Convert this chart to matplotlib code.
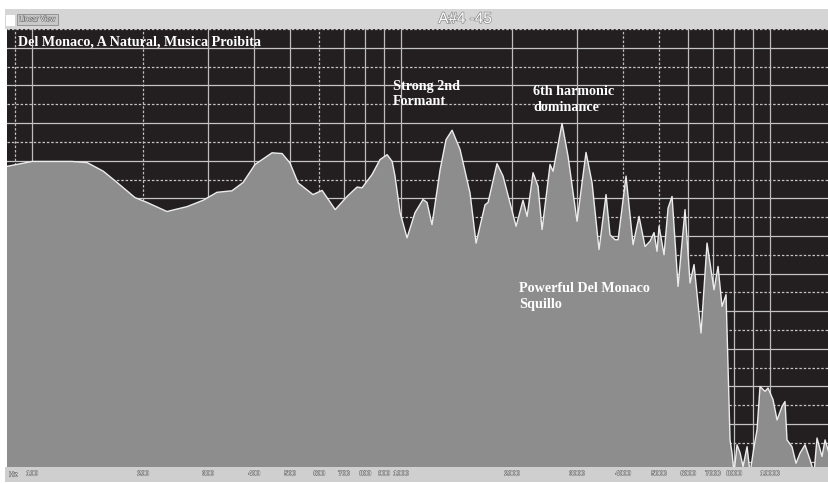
import numpy as np
import matplotlib as mpl
import matplotlib.pyplot as plt
import matplotlib.patheffects as pe
from matplotlib.patches import Rectangle
mpl.use('Agg')

# spectrum (Hz, dB relative to top of the display)
freq_hz = [85.5, 100, 128, 141, 156, 170, 190, 205, 232, 263, 291, 317, 348, 373, 402,
           447, 476, 500, 526, 577, 611, 663, 714, 760, 784, 834, 877, 917, 946, 963,
           994, 1038, 1091, 1147, 1176, 1213, 1276, 1324, 1375, 1445, 1538, 1597, 1689,
           1721, 1820, 1890, 2050, 2141, 2196, 2279, 2351, 2411, 2534, 2582, 2731, 2835,
           2999, 3172, 3293, 3440, 3594, 3685, 3802, 3874, 4072, 4254, 4416, 4584, 4730,
           4849, 4941, 5003, 5161, 5292, 5426, 5633, 5884, 6071, 6224, 6502, 6750, 7051,
           7230, 7413, 7600, 7695, 7792, 7889, 7988, 8140, 8294, 8451, 8665, 8829, 9052,
           9222, 9396, 9692, 9876, 10190, 10450, 10780, 10980, 11120, 11470, 11760, 12060,
           12440, 12840, 13160, 13410, 13830, 14100, 14450]
level_db = [-36.5, -35.2, -35.2, -35.5, -37.8, -40.8, -44.8, -46.1, -48.5, -47.2, -45.5,
            -43.4, -43.0, -40.8, -36.0, -32.9, -33.1, -35.6, -40.9, -44.0, -42.9, -48.0,
            -44.5, -42.0, -42.2, -38.7, -34.7, -33.4, -35.2, -39.1, -48.8, -55.5, -48.8,
            -45.3, -46.1, -52.0, -37.4, -29.4, -26.9, -32.0, -43.6, -56.9, -46.7, -46.1,
            -35.8, -39.1, -52.4, -45.5, -49.8, -38.2, -41.8, -53.3, -36.0, -37.8, -25.1,
            -33.8, -51.1, -32.8, -40.8, -58.6, -44.0, -54.7, -56.0, -56.0, -39.1, -57.3,
            -49.8, -57.8, -56.4, -54.1, -59.1, -52.4, -60.0, -47.6, -44.5, -68.4, -48.0,
            -67.5, -62.6, -80.8, -56.9, -69.3, -63.1, -73.7, -70.6, -89.7, -109.2, -112.7,
            -118.0, -110.5, -112.6, -116.3, -111.0, -118.0, -111.0, -106.5, -95.0, -96.3,
            -95.4, -98.5, -103.9, -100.3, -99.0, -109.2, -111.0, -115.4, -112.7, -110.5,
            -114.5, -118.0, -108.7, -113.6, -109.2, -112.7]

tick_freqs = [100, 200, 300, 400, 500, 600, 700, 800, 900, 1000,
              2000, 3000, 4000, 5000, 6000, 7000, 8000, 10000]
tick_labels = [str(f) for f in tick_freqs]
grid_freqs = [90, 100, 200, 300, 400, 500, 600, 700, 800, 900, 1000,
              2000, 3000, 4000, 5000, 6000, 7000, 8000, 9000, 10000]
dashed_freqs = [90, 200, 600, 4000, 5000]

W, H = 829, 484
fig = plt.figure(figsize=(W / 100, H / 100), dpi=100)
fig.patch.set_facecolor('white')

# header and footer bars of the analyser window
fig.patches.append(Rectangle((5 / W, 455 / H), 824 / W, 20 / H, transform=fig.transFigure,
                             facecolor='#d5d5d5', edgecolor='none', zorder=-2))
fig.patches.append(Rectangle((5 / W, 2 / H), 824 / W, 15 / H, transform=fig.transFigure,
                             facecolor='#cfcfcf', edgecolor='none', zorder=-2))

ax = fig.add_axes([7 / W, 17 / H, 822 / W, 438 / H])
ax.set_facecolor('#231f20')
ax.set_xscale('log')
ax.set_xlim(85.5, 14450)
ax.set_ylim(-116.4, 0)

for k, lv in enumerate(np.arange(0, -120, -5)):
    ls = '-' if k % 2 else (0, (2, 1.5))
    ax.axhline(lv, color='#c4c4c4', lw=0.9, ls=ls, zorder=1)
for f in grid_freqs:
    ls = (0, (2, 1.5)) if f in dashed_freqs else '-'
    ax.axvline(f, color='#bdbdbd', lw=0.9, ls=ls, zorder=1)

ax.fill_between(freq_hz, level_db, -200, color='#8d8d8d', lw=0, zorder=2)
ax.plot(freq_hz, level_db, color='#ececec', lw=1.0, zorder=3)

ax.set_xticks(tick_freqs)
ax.set_xticklabels(tick_labels, family='Liberation Sans')
ax.xaxis.set_minor_locator(mpl.ticker.NullLocator())
ax.tick_params(axis='x', length=0, pad=2.5, labelsize=5, labelcolor='white')
for lab in ax.get_xticklabels():
    lab.set_path_effects([pe.withStroke(linewidth=0.8, foreground='#707070')])
ax.set_yticks([])
for s in ax.spines.values():
    s.set_visible(False)

stroke = [pe.withStroke(linewidth=0.8, foreground='#6a6a6a')]
fig.text(9 / W, 1 - 475 / H, 'Hz', fontsize=5, family='Liberation Sans', color='white',
         va='center', path_effects=stroke)
fig.text(465 / W, 1 - 19 / H, 'A#4 -45', fontsize=11, family='Liberation Sans',
         color='white', ha='center', va='center',
         path_effects=[pe.withStroke(linewidth=1.0, foreground='#8a8a8a')])
fig.patches.append(Rectangle((6 / W, 1 - 26 / H), 9 / W, 11 / H, transform=fig.transFigure,
                             facecolor='white', edgecolor='none', zorder=1))
fig.text(19 / W, 1 - 19.5 / H, 'Linear View', fontsize=5, family='Liberation Sans',
         color='white', va='center', path_effects=stroke,
         bbox=dict(boxstyle='square,pad=0.3', facecolor='#c8c8c8', edgecolor='#8a8a8a', lw=0.6))

tfont = dict(family='Liberation Serif', fontweight='bold', fontsize=10.2, color='white')
ax.text(0.0134, 0.970, 'Del Monaco, A Natural, Musica Proibita', transform=ax.transAxes,
        va='center', ha='left', **tfont)
ax.text(0.4696, 0.884, 'Strong 2nd\nFormant', transform=ax.transAxes,
        va='top', ha='left', linespacing=1.25, zorder=5, **tfont)
ax.text(0.640, 0.872, '6th harmonic\ndominance', transform=ax.transAxes,
        va='top', ha='left', linespacing=1.25, zorder=5, **tfont)
ax.text(0.623, 0.422, 'Powerful Del Monaco\nSquillo', transform=ax.transAxes,
        va='top', ha='left', linespacing=1.25, zorder=5, **tfont)

fig.savefig('out.png', dpi=100)
